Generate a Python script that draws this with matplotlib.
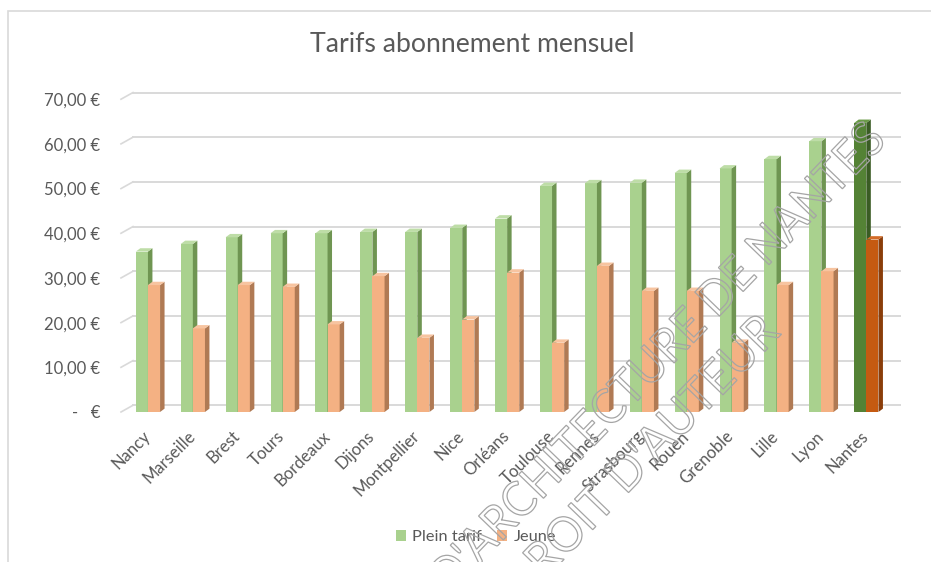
import matplotlib
matplotlib.use("Agg")
import matplotlib.pyplot as plt
import matplotlib.transforms as mtransforms
from matplotlib.patches import Polygon, Patch, Rectangle, PathPatch
from matplotlib.textpath import TextPath
from matplotlib.font_manager import FontProperties
import numpy as np

plt.rcParams['font.family'] = ['Lato', 'DejaVu Sans']

# Monthly subscription prices (EUR)
villes = ['Nancy', 'Marseille', 'Brest', 'Tours', 'Bordeaux', 'Dijons', 'Montpellier',
          'Nice', 'Orléans', 'Toulouse', 'Rennes', 'Strasbourg', 'Rouen', 'Grenoble',
          'Lille', 'Lyon', 'Nantes']
plein_tarif = [35.9, 37.6, 39.1, 40.0, 40.0, 40.3, 40.3, 41.2, 43.3, 50.6, 51.2,
               51.3, 53.5, 54.5, 56.6, 60.6, 64.7]
jeune = [28.4, 18.7, 28.4, 28.0, 19.6, 30.4, 16.6, 20.7, 31.2, 15.5, 32.7,
         27.1, 27.1, 15.5, 28.4, 31.5, 38.6]
y_ticks = [0, 10, 20, 30, 40, 50, 60, 70]
highlight = 'Nantes'

# colours: (front, side, top)
green = ('#A9D18E', '#6F9552', '#BEDDA7')
orange = ('#F4B183', '#B07A54', '#F7C4A0')
green_dark = ('#548235', '#3A5C24', '#6A9A48')
orange_dark = ('#C55A11', '#8A3D0A', '#D36C28')
text_col = '#595959'
grid_col = '#D9D9D9'

W, H = 931, 562
fig = plt.figure(figsize=(W / 100, H / 100), dpi=100)
fig.patch.set_facecolor('white')
ax = fig.add_axes([121 / W, 150 / H, 779 / W, 332 / H])
ax.set_xlim(-0.6, 16.75)
ax.set_ylim(0, 74.3)

x = np.arange(len(villes))
w = 0.27
dx, dy = 0.1, 0.75           # bar depth
wall_dx, wall_dy = 0.267, 1.5  # back wall offset for gridlines

def faces(series_colors, alt_colors):
    return [alt_colors if v == highlight else series_colors for v in villes]

for vals, off, base, alt in [(plein_tarif, -w / 2, green, green_dark),
                             (jeune, w / 2, orange, orange_dark)]:
    cols = faces(base, alt)
    bars = ax.bar(x + off, vals, w, color=[c[0] for c in cols], zorder=3)
    for b, c in zip(bars, cols):
        x0, x1, h = b.get_x(), b.get_x() + b.get_width(), b.get_height()
        ax.add_patch(Polygon([(x1, 0), (x1 + dx, dy), (x1 + dx, h + dy), (x1, h)],
                             closed=True, facecolor=c[1], edgecolor='none', zorder=3))
        ax.add_patch(Polygon([(x0, h), (x0 + dx, h + dy), (x1 + dx, h + dy), (x1, h)],
                             closed=True, facecolor=c[2], edgecolor='none', zorder=3))

# gridlines on the back wall with the little slanted side-wall piece
xmin, xmax = ax.get_xlim()
for v in y_ticks:
    ax.plot([xmin, xmin + wall_dx], [v, v + wall_dy], color=grid_col, lw=1.2,
            zorder=1, clip_on=False)
    ax.plot([xmin + wall_dx, xmax], [v + wall_dy, v + wall_dy], color=grid_col,
            lw=1.4, zorder=1, clip_on=False)

for s in ax.spines.values():
    s.set_visible(False)

ax.set_yticks(y_ticks)
ax.set_yticklabels(['-   €' if v == 0 else f'{v},00 €' for v in y_ticks])
ax.tick_params(axis='y', length=0, pad=15, labelsize=12, labelcolor=text_col)

ax.set_xticks(x)
ax.set_xticklabels(villes, rotation=45, ha='right', rotation_mode='anchor')
ax.tick_params(axis='x', length=0, pad=10, labelsize=12, labelcolor=text_col)
shift = mtransforms.ScaledTranslation(-6 / 100, -2 / 100, fig.dpi_scale_trans)
for lbl in ax.get_xticklabels():
    lbl.set_transform(lbl.get_transform() + shift)

fig.text(472 / W, 1 - 44 / H, 'Tarifs abonnement mensuel', ha='center',
         va='center', fontsize=19.2, color=text_col)

handles = [Patch(facecolor=green[0], label='Plein tarif'),
           Patch(facecolor=orange[0], label='Jeune')]
fig.legend(handles=handles, loc='center', bbox_to_anchor=(476 / W, 1 - 537 / H),
           ncol=2, frameon=False, fontsize=11.8, handlelength=0.6, handleheight=0.7,
           handletextpad=0.4, columnspacing=0.9, labelcolor=text_col)

# chart frame
fig.add_artist(Rectangle((8 / W, -0.1), 1.2, 1.1 - 11 / H, transform=fig.transFigure,
                         facecolor='none', edgecolor='#D9D9D9', lw=1.2))

# watermark: outlined, slightly condensed capitals (pixel coordinates)
def watermark(text, cx, cy, width, angle):
    tp = TextPath((0, 0), text, size=48, prop=FontProperties(family='Lato'))
    bb = tp.get_extents()
    tr = (mtransforms.Affine2D()
          .translate(-(bb.x0 + bb.x1) / 2, -(bb.y0 + bb.y1) / 2)
          .scale(width / bb.width, 1)
          .rotate_deg(angle)
          .translate(cx, H - cy))
    fig.add_artist(PathPatch(tp, transform=tr, facecolor='none',
                             edgecolor='#A5A5A5', lw=0.9, zorder=10))

watermark("D'ARCHITECTURE DE NANTES", 657, 356, 625, 46)
watermark("DROIT D'AUTEUR", 640, 456, 372, 46)

plt.savefig('out.png', dpi=100)
plt.close(fig)
